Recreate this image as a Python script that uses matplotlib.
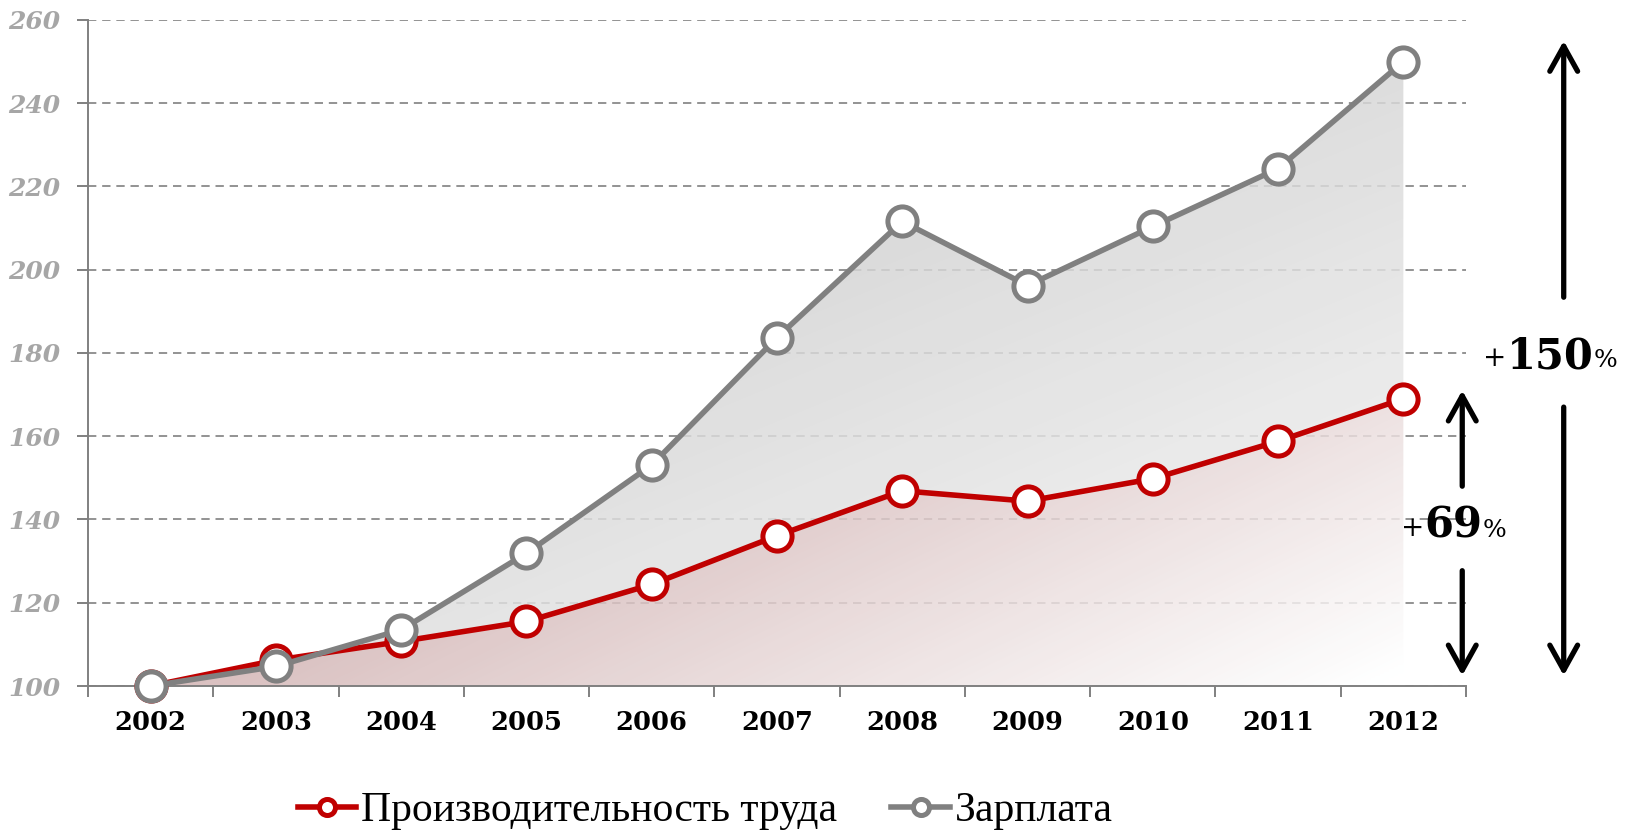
import matplotlib
matplotlib.use("Agg")
import matplotlib.pyplot as plt
from matplotlib.patches import Polygon
import numpy as np

# data (index, 2002 = 100)
years = ["2002", "2003", "2004", "2005", "2006", "2007", "2008", "2009", "2010", "2011", "2012"]
productivity = [100, 106.2, 110.7, 115.5, 124.4, 136.1, 146.9, 144.4, 149.8, 158.8, 169]
wages = [100, 104.7, 113.5, 131.9, 153.1, 183.7, 211.6, 196.2, 210.4, 224.3, 250]
yticks = [100, 120, 140, 160, 180, 200, 220, 240, 260]
labels = ["Производительность труда", "Зарплата"]

RED = "#c00000"
GREY = "#808080"

fig = plt.figure(figsize=(16.25, 8.32), dpi=100)
ax = fig.add_axes([88 / 1625, 1 - 686 / 832, (1466 - 88) / 1625, (686 - 20) / 832])

x = np.arange(len(years))
prod = np.array(productivity)
wage = np.array(wages)

ax.set_xlim(-0.5, len(years) - 0.5)
ax.set_ylim(yticks[0], yticks[-1])

# gridlines
ax.set_yticks(yticks)
ax.yaxis.grid(True, color=GREY, lw=1.2, linestyle=(0, (5, 3.5)), zorder=0)
ax.set_axisbelow(True)

# gradient fills, alpha lets the grid show through
a = 0.84
ny, nx = 300, 600
xf, yf = np.meshgrid(np.linspace(0, 1, nx), np.linspace(0, 1, ny))

g = 0.763 + 0.101 * xf + 0.118 * (1 - yf)
grey_img = np.dstack([g, g, g])

t = xf - yf
r = np.clip(0.86 + 0.17 * (t - 0.11), 0, 1)
gb = np.clip(0.765 + 0.29 * (t - 0.11), 0, 1)
red_img = np.dstack([r, gb, gb])


def to_rgba(img):
    rgb = np.clip((img - (1 - a)) / a, 0, 1)
    alpha = np.full(img.shape[:2] + (1,), a)
    return np.concatenate([rgb, alpha], axis=2)


ext = (-0.5, len(years) - 0.5, yticks[0], yticks[-1])

poly_grey = Polygon(np.column_stack([np.r_[x, x[::-1]], np.r_[wage, prod[::-1]]]),
                    closed=True, fill=False, lw=0)
poly_red = Polygon(np.column_stack([np.r_[x, x[-1], x[0]], np.r_[prod, yticks[0], yticks[0]]]),
                   closed=True, fill=False, lw=0)
ax.add_patch(poly_grey)
ax.add_patch(poly_red)

im1 = ax.imshow(to_rgba(grey_img), extent=ext, origin="lower", aspect="auto", zorder=1,
                interpolation="bilinear")
im1.set_clip_path(poly_grey)
im2 = ax.imshow(to_rgba(red_img), extent=ext, origin="lower", aspect="auto", zorder=1,
                interpolation="bilinear")
im2.set_clip_path(poly_red)
ax.set_xlim(-0.5, len(years) - 0.5)
ax.set_ylim(yticks[0], yticks[-1])

# lines
ax.plot(x, prod, color=RED, lw=4, marker="o", ms=21, mfc="white", mec=RED, mew=3.6,
        zorder=3, label=labels[0], clip_on=False)
ax.plot(x, wage, color=GREY, lw=4, marker="o", ms=21, mfc="white", mec=GREY, mew=3.6,
        zorder=4, label=labels[1], clip_on=False)

# axes styling
for s in ["top", "right"]:
    ax.spines[s].set_visible(False)
for s in ["left", "bottom"]:
    ax.spines[s].set_color(GREY)
    ax.spines[s].set_linewidth(1.4)

ax.set_xticks(x)
ax.set_xticklabels(years, fontfamily="DejaVu Serif", fontweight="bold", fontsize=18.5, color="black")
ax.set_xticks(np.arange(-0.5, len(years)), minor=True)
ax.tick_params(axis="x", which="major", length=0, pad=17)
ax.tick_params(axis="x", which="minor", length=8, width=1.4, color=GREY)
ax.tick_params(axis="y", length=8, width=1.4, color=GREY, pad=12)
for lab in ax.get_yticklabels():
    lab.set_fontfamily("DejaVu Serif")
    lab.set_fontweight("bold")
    lab.set_fontstyle("italic")
    lab.set_fontsize(18)
    lab.set_color("#a6a6a6")

# growth arrows and labels
arrow_kw = dict(arrowstyle="->,head_length=0.9,head_width=0.5", lw=3.8, color="black",
                mutation_scale=20, shrinkA=0, shrinkB=0)


def growth(xa, series, xlab, ylab, gap_lo, gap_hi, top_pad):
    top = series[-1] + top_pad
    bot = series[0] + 2.5
    ax.annotate("", xy=(xa, top), xytext=(xa, gap_hi), arrowprops=arrow_kw, annotation_clip=False)
    ax.annotate("", xy=(xa, bot), xytext=(xa, gap_lo), arrowprops=arrow_kw, annotation_clip=False)
    pct = round((series[-1] / series[0] - 1) * 100)
    tb = ax.text(xlab, ylab, str(pct), fontfamily="DejaVu Serif", fontweight="bold", fontsize=30,
                 ha="center", va="center", clip_on=False, zorder=6)
    ax.annotate("+", xy=(0, 0.12), xycoords=tb, ha="right", va="bottom", fontsize=20,
                fontfamily="DejaVu Serif", annotation_clip=False)
    ax.annotate("%", xy=(1, 0.12), xycoords=tb, ha="left", va="bottom", fontsize=18,
                fontfamily="DejaVu Serif", annotation_clip=False)


growth(11.28, wage, 11.17, 179.2, 167, 193.4, 5)
growth(10.47, prod, 10.40, 138.5, 127.7, 148, 2)

# legend
ax.legend(loc="center", bbox_to_anchor=(0.448, -0.188), ncol=2, frameon=False,
          prop={"family": "Liberation Serif", "size": 30}, handlelength=1.4,
          handletextpad=0.12, columnspacing=1.3, markerscale=0.55)

fig.savefig("out.png", dpi=100)
